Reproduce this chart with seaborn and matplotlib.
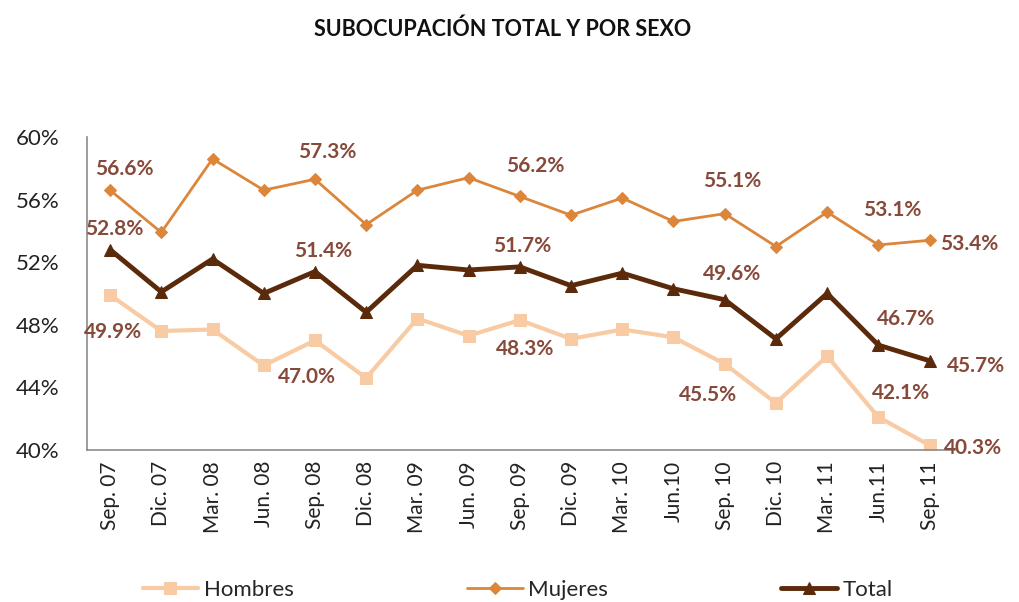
import numpy as np
import pandas as pd
import matplotlib
matplotlib.use("Agg")
import matplotlib.pyplot as plt
import seaborn as sns

# Data
periodos = ["Sep. 07", "Dic. 07", "Mar. 08", "Jun. 08", "Sep. 08", "Dic. 08",
            "Mar. 09", "Jun. 09", "Sep. 09", "Dic. 09", "Mar. 10", "Jun.10",
            "Sep. 10", "Dic. 10", "Mar. 11", "Jun.11", "Sep. 11"]
hombres = [49.9, 47.6, 47.7, 45.4, 47.0, 44.6, 48.4, 47.3, 48.3, 47.1, 47.7,
           47.2, 45.5, 43.0, 46.0, 42.1, 40.3]
mujeres = [56.6, 53.9, 58.6, 56.6, 57.3, 54.4, 56.6, 57.4, 56.2, 55.0, 56.1,
           54.6, 55.1, 53.0, 55.2, 53.1, 53.4]
total = [52.8, 50.1, 52.2, 50.0, 51.4, 48.8, 51.8, 51.5, 51.7, 50.5, 51.3,
         50.3, 49.6, 47.1, 50.0, 46.7, 45.7]

# which points carry a value label
etiquetas = [0, 4, 8, 12, 15, 16]

sns.set_style("white")
plt.rcParams['font.family'] = ['Lato', 'DejaVu Sans']

df = pd.DataFrame({"x": range(len(periodos)), "Hombres": hombres,
                   "Mujeres": mujeres, "Total": total})
long = df.melt(id_vars="x", var_name="serie", value_name="valor")

colores = {"Hombres": "#F8CBA4", "Mujeres": "#DC863C", "Total": "#5A2A0A"}
marcas = {"Hombres": "s", "Mujeres": "D", "Total": "^"}
grosor = {"Hombres": 3.0, "Mujeres": 2.0, "Total": 3.5}
tam = {"Hombres": 8, "Mujeres": 6.5, "Total": 9}

fig = plt.figure(figsize=(10.19, 6.02), dpi=100)
ax = fig.add_axes([0.0854, 0.2525, 0.852, 0.52])

for s in ["Hombres", "Mujeres", "Total"]:
    sns.lineplot(data=long[long.serie == s], x="x", y="valor", ax=ax,
                 color=colores[s], marker=marcas[s], markersize=tam[s],
                 linewidth=grosor[s], markeredgecolor=colores[s], label=s)

# label offsets in pixels (dx, dy), centred text unless the last point
col_txt = "#87493A"
fs = 15
off = {
    "Mujeres": {0: (14, 21), 4: (12, 27), 8: (15, 30), 12: (7, 33),
                15: (14, 35), 16: (10, -4)},
    "Total": {0: (4, 21), 4: (8, 21), 8: (2, 21), 12: (7, 26),
              15: (28, 26), 16: (17, -5)},
    "Hombres": {0: (3, -37), 4: (-8, -37), 8: (5, -29), 12: (-17, -31),
                15: (23, 24), 16: (14, -3)},
}
for s in ["Hombres", "Mujeres", "Total"]:
    vals = df[s]
    for i in etiquetas:
        dx, dy = off[s][i]
        ha = "left" if i == 16 else "center"
        ax.annotate(f"{vals[i]:.1f}%", (i, vals[i]), xytext=(dx, dy),
                    textcoords="offset pixels", ha=ha, va="center", fontsize=fs,
                    fontweight="bold", color=col_txt)

ax.set_xlim(-0.45, 16.5)
ax.set_ylim(40, 60)
ax.set_yticks(np.arange(40, 61, 4))
ax.set_yticklabels([f"{v}%" for v in range(40, 61, 4)], fontsize=16, color="#222222")
ax.set_xticks(range(len(periodos)))
ax.set_xticklabels(periodos, rotation=90, fontsize=15, color="#222222")
ax.tick_params(axis="x", pad=8, length=0)
ax.tick_params(axis="y", pad=20, length=0)
ax.set_xlabel("")
ax.set_ylabel("")
for sp in ["top", "right"]:
    ax.spines[sp].set_visible(False)
for sp in ["left", "bottom"]:
    ax.spines[sp].set_color("#8c8c8c")
    ax.spines[sp].set_linewidth(1.2)

h, l = ax.get_legend_handles_labels()
ax.get_legend().remove()
fig.legend(h, l, loc="center", bbox_to_anchor=(0.508, 0.02), ncol=3, frameon=False,
           fontsize=16, columnspacing=7.8, handlelength=2.5, handletextpad=0.25,
           borderpad=0)

fig.suptitle("SUBOCUPACIÓN TOTAL Y POR SEXO", x=0.493, y=0.97, fontsize=15.5,
             fontweight="bold", color="#111111")

fig.savefig("out.png", dpi=100, facecolor="white")
